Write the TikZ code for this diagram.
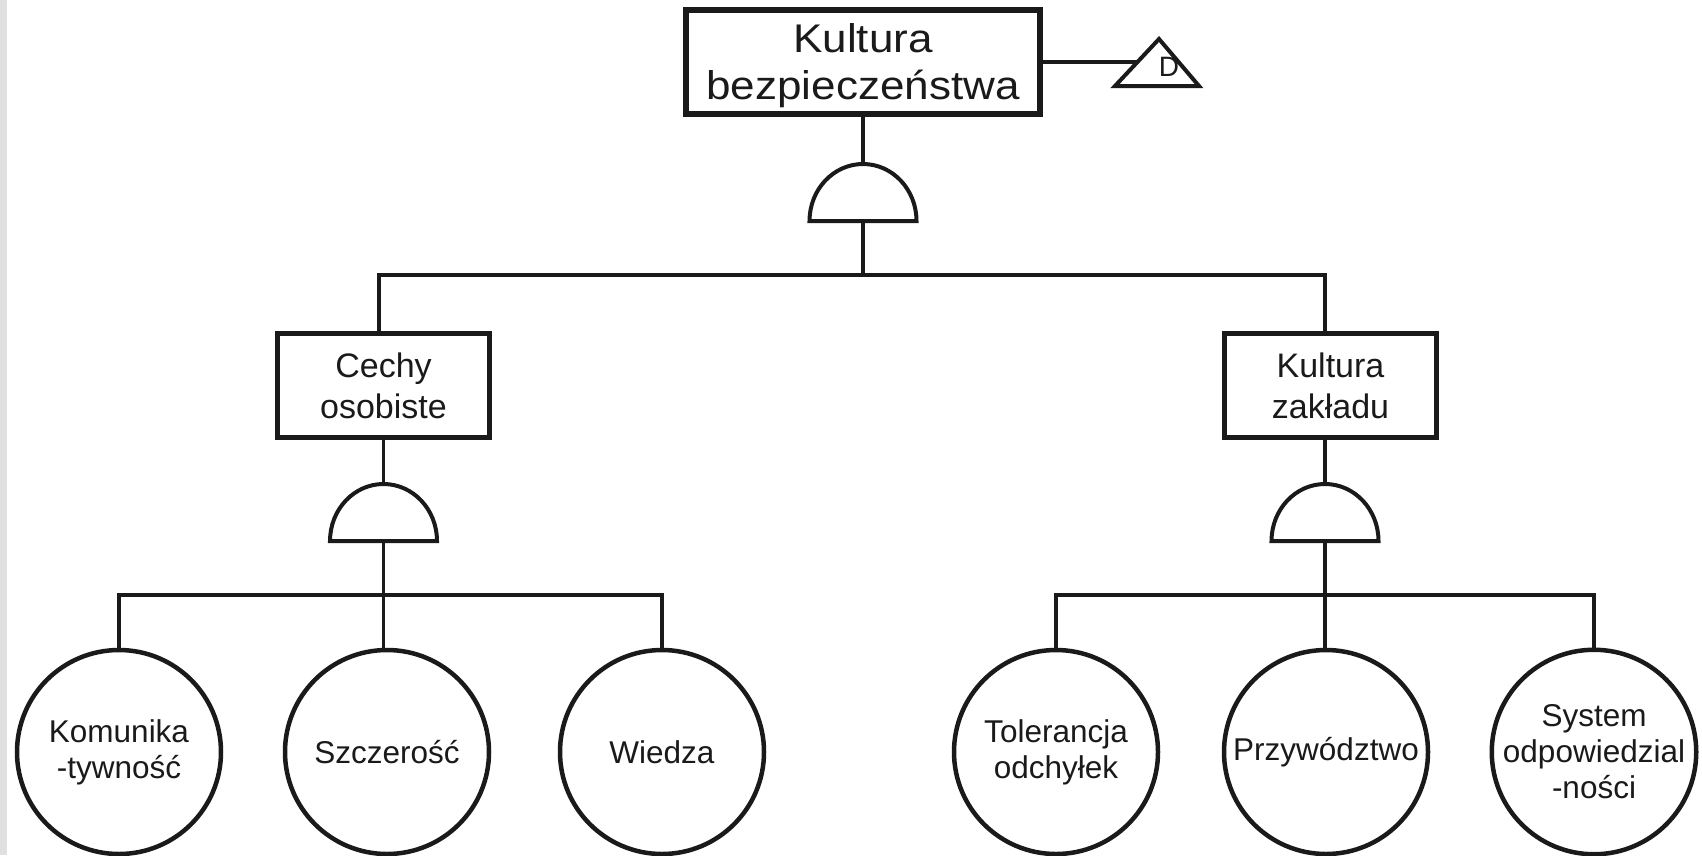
\documentclass[tikz,border=0pt]{standalone}
\usepackage{fontspec}
\setmainfont{Liberation Sans}
\newfontfamily\widefont[FakeStretch=1.1]{Liberation Sans}
\definecolor{ink}{HTML}{1A1A1A}
\definecolor{margin}{HTML}{E0E0E0}

\begin{document}
\begin{tikzpicture}[x=1pt,y=-1pt,
  every node/.style={text=ink},
  link/.style={draw=ink,line width=3.3pt},
  event/.style={draw=ink,fill=white,rectangle,inner sep=0pt,align=center},
  topevent/.style={event,line width=6pt,minimum width=354pt,minimum height=104pt,
    font=\widefont\fontsize{40}{47}\selectfont},
  midevent/.style={event,line width=5pt,minimum width=212pt,minimum height=104pt,
    font=\fontsize{34}{41}\selectfont},
  basic/.style={draw=ink,fill=white,circle,line width=4.5pt,minimum size=204pt,
    inner sep=0pt,align=center,font=\fontsize{31.5}{36}\selectfont},
  gatebox/.style={rectangle,inner sep=0pt,outer sep=0pt,minimum width=107pt,minimum height=57pt},
  gateline/.style={draw=ink,fill=white,line width=4pt,line join=miter},
  tri/.style={draw=ink,fill=white,line width=4pt,line join=miter},
]
\useasboundingbox (0,0) rectangle (1702,855);
\fill[margin] (0,0) rectangle (7,855);

% top event, transfer triangle and its AND gate
\node[topevent] (top) at (863,62) {\rule{0pt}{37pt}Kultura\\bezpieczeństwa};
\node[gatebox] (g0) at (863,192.5) {};
\draw[gateline] (g0.south west) arc[start angle=180,end angle=0,x radius=53.5pt,y radius=57pt] -- cycle;

\coordinate (tA) at (1115,86);
\coordinate (tB) at (1159,39);
\coordinate (tC) at (1199,86);
\coordinate (tIn) at (1137,62);
\draw[tri] (tA) -- (tB) -- (tC) -- cycle;
\node[font=\fontsize{28}{28}\selectfont] (tlabel) at (1169,67) {D};

% intermediate events
\node[midevent] (L) at (383.5,385.5) {Cechy\\osobiste};
\node[midevent] (R) at (1330.5,385.5) {Kultura\\zakładu};

\node[gatebox] (g1) at (383.5,512.5) {};
\draw[gateline] (g1.south west) arc[start angle=180,end angle=0,x radius=53.5pt,y radius=57pt] -- cycle;
\node[gatebox] (g2) at (1325,512.5) {};
\draw[gateline] (g2.south west) arc[start angle=180,end angle=0,x radius=53.5pt,y radius=57pt] -- cycle;

% basic events
\node[basic] (c1) at (119,752) {Komunika\\-tywność};
\node[basic] (c2) at (387,752) {Szczerość};
\node[basic] (c3) at (662,752) {Wiedza};
\node[basic] (c4) at (1056,752) {Tolerancja\\odchyłek};
\node[basic] (c5) at (1326,752) {Przywództwo};
\node[basic] (c6) at (1594,752) {System\\odpowiedzial\\-ności};

% junction points of the distribution bars
\coordinate (j0) at (863,275);
\coordinate (j1) at (383.5,595);
\coordinate (j2) at (1325,595);

% connectors
\draw[link] (top.east) -- (tIn);
\draw[link] (top.south) -- (g0.north);
\draw[link] (g0.south) -- (j0);
\draw[link] ([xshift=-4.5pt]L.north) |- (j0) -| (g2.north |- R.north);
\draw[link] (L.south) -- (g1.north);
\draw[link] (g2.north |- R.south) -- (g2.north);

\draw[link] (g1.south) -- (j1);
\draw[link] (c1.north) |- (j1) -| (c3.north);
\draw[link] (j1) -- (j1 |- c2.north);

\draw[link] (g2.south) -- (j2);
\draw[link] (c4.north) |- (j2) -| (c6.north);
\draw[link] (j2) -- (j2 |- c5.north);
\end{tikzpicture}
\end{document}
